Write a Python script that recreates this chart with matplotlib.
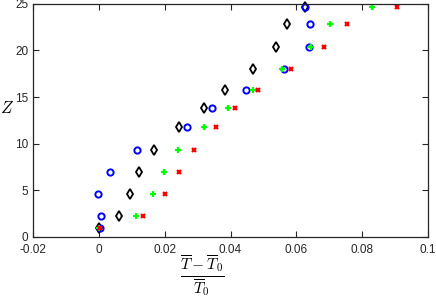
import matplotlib
matplotlib.use("Agg")
import matplotlib.pyplot as plt

plt.rcParams['font.family'] = ['Liberation Sans', 'DejaVu Sans']
plt.rcParams['mathtext.fontset'] = 'cm'

# height levels
z = [0.9, 2.2, 4.6, 6.9, 9.35, 11.76, 13.87, 15.77, 18.0, 20.4, 22.8, 24.67]

# normalised temperature change, one list per case
dt_diamond = [0.0, 0.0062, 0.0094, 0.0121, 0.0167, 0.0245, 0.0318, 0.0384, 0.0468, 0.0538, 0.0571, 0.0627]
dt_circle = [0.0003, 0.0008, -0.0002, 0.0033, 0.0117, 0.0267, 0.0345, 0.0446, 0.0563, 0.0638, 0.0640, 0.0627]
dt_plus = [0.0, 0.0113, 0.0165, 0.0199, 0.0239, 0.0318, 0.0393, 0.0467, 0.0555, 0.0645, 0.0702, 0.0831]
dt_cross = [0.0003, 0.0135, 0.0200, 0.0242, 0.0289, 0.0355, 0.0414, 0.0485, 0.0585, 0.0685, 0.0754, 0.0907]

xticks = [-0.02, 0, 0.02, 0.04, 0.06, 0.08, 0.1]
xticklabels = ['-0.02', '0', '0.02', '0.04', '0.06', '0.08', '0.1']
yticks = [0, 5, 10, 15, 20, 25]

fig = plt.figure(figsize=(4.36, 3.0), dpi=100)
ax = fig.add_axes([0.0757, 0.211, 0.906, 0.776])

ax.plot(dt_diamond, z, 'd', color='black', mfc='none', ms=5, mew=1.3, clip_on=False)
ax.plot(dt_circle, z, 'o', color='blue', mfc='none', ms=4.5, mew=1.4, clip_on=False)
ax.plot(dt_plus, z, '+', color=(0, 1, 0), ms=4.5, mew=1.6, clip_on=False)
ax.plot(dt_cross, z, 'x', color='red', ms=3.5, mew=1.6, clip_on=False)

ax.set_xlim(-0.02, 0.1)
ax.set_ylim(0, 25)
ax.set_xticks(xticks)
ax.set_xticklabels(xticklabels)
ax.set_yticks(yticks)
ax.tick_params(direction='in', top=True, right=True, labelsize=8.5,
               colors='#262626', length=4, width=0.8)
ax.tick_params(axis='x', pad=5)
for s in ax.spines.values():
    s.set_color('#262626')
    s.set_linewidth(0.9)

ax.set_ylabel('$Z$', fontsize=12, rotation=0, va='center', ha='center')
ax.yaxis.set_label_coords(-0.065, 0.553)
ax.set_xlabel(r'$\frac{\overline{T}-\overline{T}_0}{\overline{T}_0}$', fontsize=16, labelpad=0)
ax.xaxis.set_label_coords(0.43, -0.072)
ax.xaxis.label.set_va('top')

fig.savefig('out.png', dpi=100)
